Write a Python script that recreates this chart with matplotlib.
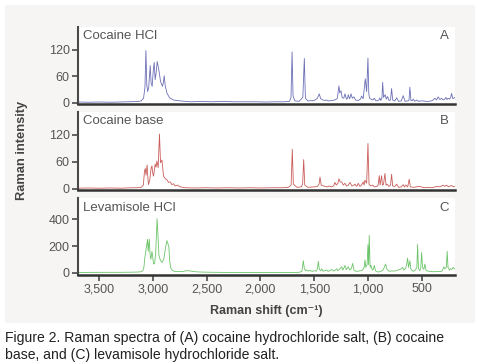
import matplotlib
matplotlib.use("Agg")
import matplotlib.pyplot as plt
from matplotlib.patches import Rectangle
from matplotlib.ticker import FuncFormatter

# ---------------- data (Raman shift cm-1, intensity) ----------------
cocaine_hcl = [(3700,1.5),(3600,1),(3500,1.5),(3400,1),(3300,1.5),(3200,2),(3150,2.5),(3110,4),(3088,10),(3075,35),
 (3066,118),(3058,40),(3050,25),(3040,35),(3026,84),(3018,45),(3008,37),(2997,75),(2989,91),(2980,52),
 (2970,70),(2961,93),(2950,80),(2942,68),(2930,48),(2912,37),(2904,45),(2896,61),(2886,38),(2871,22),
 (2846,11),(2809,6),(2747,4),(2650,2),(2550,3),(2450,2),(2350,3),(2250,2),(2150,2),(2050,2),
 (1950,1.5),(1850,2),(1780,2),(1730,3),(1716,12),(1706,115),(1697,15),(1680,4),(1640,3),(1606,12),
 (1592,100),(1582,10),(1560,4),(1500,5),(1470,10),(1453,20),(1440,9),(1420,6),(1400,5),(1384,6),
 (1370,4),(1330,5),(1300,7),(1285,10),(1270,38),(1262,22),(1251,27),(1240,12),(1225,10),(1214,20),
 (1200,8),(1190,10),(1183,18),(1172,9),(1165,12),(1158,20),(1145,10),(1130,13),(1115,6),(1090,5),
 (1070,8),(1059,15),(1045,9),(1035,30),(1025,54),(1012,25),(1000,101),(992,20),(985,10),(970,8),
 (955,6),(941,10),(925,4),(905,5),(895,7),(889,11),(880,5),(870,10),(863,46),(855,12),
 (847,15),(839,18),(830,8),(817,14),(805,5),(790,6),(780,32),(770,6),(750,4),(733,11),
 (715,3),(690,4),(672,16),(655,3),(630,4),(618,5),(610,35),(600,5),(590,4),(579,8),
 (565,3),(547,6),(530,3),(510,4),(486,4),(460,3),(430,3),(400,5),(377,10),(362,6),
 (347,13),(330,7),(315,10),(300,6),(285,8),(275,12),(264,7),(254,10),(240,8),(230,12),
 (222,21),(210,9),(190,12)]

cocaine_base = [(3700,1),(3600,1.5),(3500,1),(3400,1.5),(3300,1),(3200,2),(3150,2),(3110,3),(3090,8),(3079,40),
 (3072,45),(3065,30),(3055,53),(3048,25),(3042,9),(3030,20),(3018,45),(3010,51),(3003,35),(2995,28),
 (2980,55),(2972,48),(2964,62),(2952,47),(2940,122),(2930,58),(2917,64),(2902,28),(2885,22),(2871,20),
 (2856,14),(2848,15),(2840,15),(2824,9),(2809,11),(2794,6),(2772,8),(2747,4),(2700,2),(2600,1.5),
 (2500,2),(2400,1.5),(2300,2),(2200,1.5),(2100,2),(2000,1.5),(1900,2),(1800,2),(1740,3),(1715,8),
 (1704,88),(1694,10),(1660,3),(1620,4),(1608,10),(1598,65),(1588,8),(1560,3),(1500,4),(1470,5),
 (1455,10),(1446,26),(1435,8),(1400,5),(1380,4),(1362,6),(1340,4),(1320,6),(1307,14),(1295,8),
 (1280,12),(1270,22),(1258,15),(1244,15),(1230,8),(1214,12),(1200,6),(1185,7),(1167,14),(1150,6),
 (1135,7),(1121,10),(1105,5),(1090,12),(1075,5),(1060,8),(1044,15),(1036,8),(1028,19),(1012,12),
 (1000,101),(990,10),(975,6),(956,8),(940,4),(915,5),(905,8),(895,29),(887,8),(873,29),
 (865,8),(855,10),(842,34),(832,8),(821,10),(805,5),(790,8),(780,32),(770,6),(750,5),
 (733,10),(715,3),(690,4),(672,9),(660,4),(647,8),(630,4),(616,21),(605,4),(580,3),
 (550,4),(517,5),(480,2),(440,3),(400,2),(362,5),(330,4),(300,8),(285,5),(269,8),
 (250,4),(235,6),(222,7),(205,4),(190,5)]

levamisole_hcl = [(3700,2),(3500,3),(3300,3),(3200,4),(3120,6),(3095,15),(3085,40),(3075,120),(3060,200),(3051,250),
 (3045,160),(3035,252),(3028,140),(3020,100),(3010,160),(3003,120),(2995,65),(2985,70),(2975,150),(2962,405),
 (2955,300),(2945,130),(2930,90),(2915,78),(2900,100),(2885,180),(2871,241),(2862,220),(2852,190),(2845,90),
 (2835,35),(2820,18),(2800,10),(2760,8),(2720,10),(2690,15),(2660,14),(2620,9),(2580,6),(2500,4),
 (2400,3),(2300,2),(2200,2),(2100,1.5),(2000,1.5),(1900,2),(1800,2),(1700,2),(1640,3),(1615,10),
 (1601,90),(1592,30),(1580,15),(1570,22),(1555,12),(1540,18),(1520,10),(1500,15),(1480,12),(1470,30),
 (1462,85),(1452,25),(1440,15),(1430,30),(1420,12),(1400,15),(1384,20),(1370,10),(1350,18),(1337,25),
 (1320,12),(1305,18),(1291,30),(1280,15),(1265,25),(1244,45),(1235,20),(1224,35),(1214,55),(1200,22),
 (1183,45),(1170,20),(1155,30),(1142,70),(1130,20),(1115,12),(1105,10),(1090,12),(1070,15),(1050,20),
 (1035,40),(1028,96),(1020,40),(1008,60),(1000,210),(994,60),(988,280),(980,40),(972,55),(960,20),
 (950,25),(941,55),(930,15),(915,8),(904,5),(880,10),(860,20),(848,40),(836,65),(825,30),
 (810,15),(795,10),(780,15),(760,12),(740,15),(718,20),(700,25),(690,30),(678,40),(665,20),
 (655,28),(647,40),(640,60),(631,110),(622,40),(610,90),(602,30),(594,20),(580,10),(560,20),
 (545,40),(538,211),(530,30),(517,15),(508,40),(501,153),(492,40),(480,25),(470,65),(460,20),
 (445,12),(424,10),(400,8),(370,8),(340,10),(315,10),(305,20),(294,45),(285,30),(270,40),
 (263,161),(255,40),(240,20),(231,30),(220,25),(207,40),(195,30),(190,28)]

panel_names = ["Cocaine HCl", "Cocaine base", "Levamisole HCl"]
panel_letters = ["A", "B", "C"]
y_ticks = [[0, 60, 120], [0, 60, 120], [0, 200, 400]]
x_ticks = [3500, 3000, 2500, 2000, 1500, 1000, 500]
caption_lines = ["Figure 2. Raman spectra of (A) cocaine hydrochloride salt, (B) cocaine",
                 "base, and (C) levamisole hydrochloride salt."]

# ---------------- styling ----------------
plt.rcParams['font.family'] = ['Liberation Sans', 'DejaVu Sans']
W, H = 480, 364
fig = plt.figure(figsize=(W / 100, H / 100), dpi=100, facecolor='white')

def fx(px):
    return px / W

def fy(py):
    return 1 - py / H

bg = Rectangle((fx(5), fy(323)), fx(470), (323 - 5) / H,
               transform=fig.transFigure, facecolor='#f6f5f3',
               edgecolor='none', zorder=-10)
fig.add_artist(bg)

colors = ['#6b6fb6', '#c95d5a', '#6cc468']
ylims = [(-3, 172), (-3, 172), (-17, 558)]
panel_px = [(26.7, 104), (111.7, 190), (198.3, 275)]
spectra = [cocaine_hcl, cocaine_base, levamisole_hcl]

for i in range(3):
    top, bot = panel_px[i]
    ax = fig.add_axes([fx(78), fy(bot), fx(455) - fx(78), (bot - top) / H])
    ax.set_zorder(1)
    ax.set_facecolor('white')
    xs = [p[0] for p in spectra[i]]
    ys = [p[1] for p in spectra[i]]
    ax.plot(xs, ys, color=colors[i], lw=0.6, solid_joinstyle='round')
    ax.set_xlim(3698, 190)
    ax.set_ylim(*ylims[i])
    for s in ['top', 'right']:
        ax.spines[s].set_visible(False)
    ax.spines['left'].set_color('#4a4a4a')
    ax.spines['left'].set_linewidth(1.5)
    ax.spines['bottom'].set_color('#333333')
    ax.spines['bottom'].set_linewidth(1.8)
    ax.set_yticks(y_ticks[i])
    ax.tick_params(axis='y', direction='out', length=4, width=1.2, color='#4a4a4a',
                   labelsize=9, labelcolor='#555555', pad=2)
    if i < 2:
        ax.set_xticks([])
    else:
        ax.set_xticks(x_ticks)
        ax.xaxis.set_major_formatter(FuncFormatter(lambda v, p: f"{int(v):,}"))
        ax.tick_params(axis='x', direction='out', length=4, width=1.2, color='#4a4a4a',
                       labelsize=9, labelcolor='#555555', pad=2)
    ax.text(0.014, 0.955, panel_names[i], transform=ax.transAxes, ha='left', va='top',
            fontsize=9.5, color='#555555')
    ax.text(0.984, 0.955, panel_letters[i], transform=ax.transAxes, ha='right', va='top',
            fontsize=9.5, color='#555555')

fig.text(fx(22), fy(150), "Raman intensity", rotation=90, ha='center', va='center',
         fontsize=9.3, fontweight='bold', color='#444444')
fig.text(fx(266), fy(311), "Raman shift (cm\u207b\u00b9)", ha='center', va='center',
         fontsize=9.0, fontweight='bold', color='#444444')

fig.text(fx(5), fy(338), caption_lines[0], ha='left', va='center', fontsize=10.1, color='#222222')
fig.text(fx(5), fy(355), caption_lines[1], ha='left', va='center', fontsize=10.1, color='#222222')

fig.savefig("out.png", dpi=100, facecolor='white')
